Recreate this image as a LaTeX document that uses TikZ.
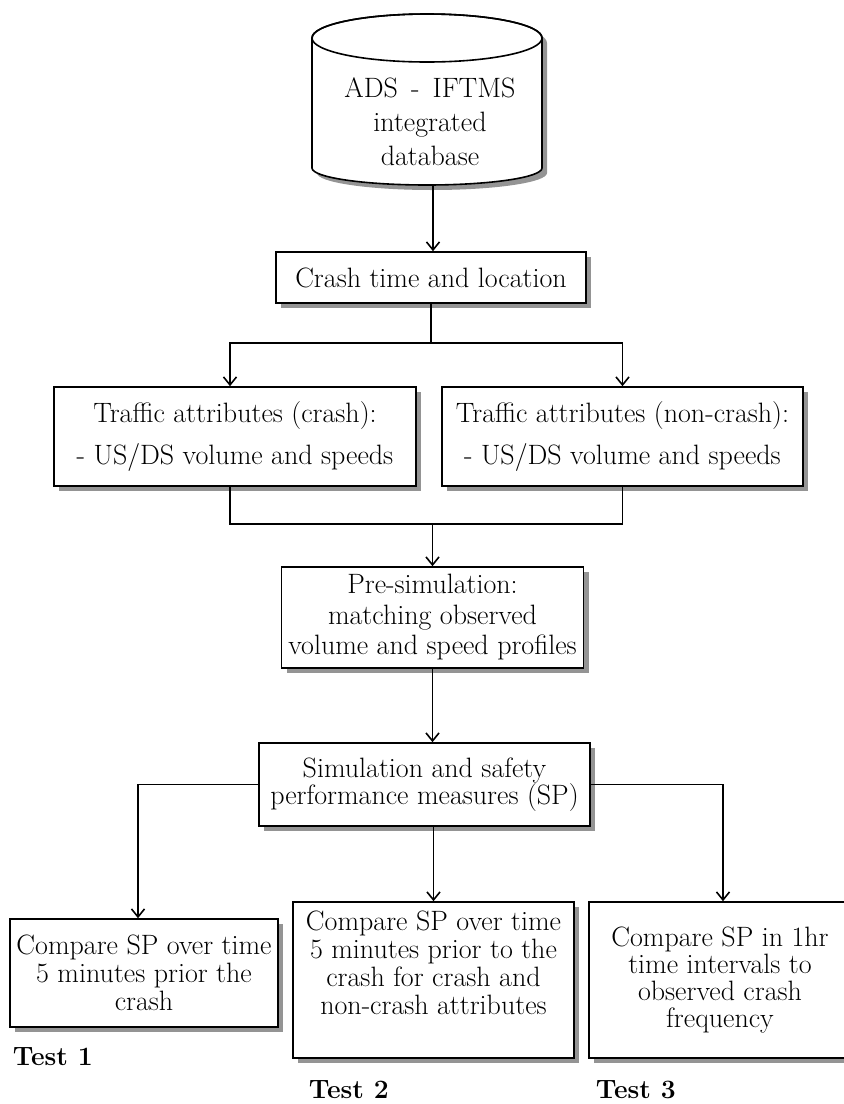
\documentclass[tikz,border=0pt]{standalone}
\usetikzlibrary{arrows.meta,shadows}
\begin{document}
\begin{tikzpicture}[x=1pt,y=-1pt,
  line width=1.6pt,
  shadowcol/.style={fill=black!42},
  box/.style={draw, fill=white, rectangle, inner sep=0pt, align=center,
    font=\fontsize{28}{28}\selectfont,
    drop shadow={shadow xshift=5pt, shadow yshift=-5pt, fill=black!42, opacity=1}},
  arr/.style={-{Straight Barb[length=8pt,width=13pt]}},
  testlbl/.style={font=\fontsize{26.5}{28}\selectfont\bfseries, anchor=west, inner sep=0pt}]

\useasboundingbox (0,0) rectangle (844,1104);

% database cylinder with its shadow
\fill[shadowcol] (317,43) -- (317,173) arc (180:0:115 and 17) -- (547,43) arc (0:-180:115 and 24) -- cycle;
\filldraw[fill=white] (312,38) -- (312,168) arc (180:0:115 and 17) -- (542,38) arc (0:-180:115 and 24) -- cycle;
\draw (427,38) ellipse (115 and 24);
\node[align=center, inner sep=0pt, font=\fontsize{28}{34}\selectfont] (db) at (430,122)
  {ADS\, - \,IFTMS\\ integrated\\ database};
\coordinate (dbout) at (433,185);

% process boxes
\node[box, minimum width=310pt, minimum height=51pt] (crash) at (431,277.5) {Crash time and location};
\node[box, minimum width=362pt, minimum height=99pt, font=\fontsize{28}{42}\selectfont] (trL) at (235,436.5)
  {Traffic attributes (crash):\\ - US/DS volume and speeds};
\node[box, minimum width=361pt, minimum height=99pt, font=\fontsize{28}{42}\selectfont] (trR) at (622.5,436.5)
  {Traffic attributes (non-crash):\\ - US/DS volume and speeds};
\node[box, minimum width=302pt, minimum height=101pt, font=\fontsize{28}{30.5}\selectfont] (presim) at (432.5,617.5)
  {Pre-simulation:\\ matching observed\\ volume and speed profiles};
\node[box, minimum width=331pt, minimum height=83pt, font=\fontsize{28}{27.5}\selectfont] (sim) at (424.5,784.5)
  {Simulation and safety\\ performance measures (SP)};
\node[box, minimum width=268pt, minimum height=108pt] (t1) at (144,973)
  {Compare SP over time\\ 5 minutes prior the\\ crash};
\node[box, minimum width=281pt, minimum height=156pt] (t2) at (433.5,980)
  {\raisebox{13pt}[\height][\depth]{\begin{tabular}{@{}c@{}}Compare SP over time\\ 5 minutes prior to the\\ crash for crash and\\ non-crash attributes\end{tabular}}};
\node[box, minimum width=262pt, minimum height=156pt, font=\fontsize{28}{27}\selectfont] (t3) at (720,980)
  {Compare SP in 1hr\\ time intervals to\\ observed crash\\ frequency};

% test labels
\node[testlbl] (l1) at (12,1057) {Test 1};
\node[testlbl] (l2) at (308,1090) {Test 2};
\node[testlbl] (l3) at (595,1090) {Test 3};

% connectors
\draw[arr] (dbout) -- (dbout |- crash.north);
\coordinate (split) at (431,343);
\draw (crash.south) -- (split);
\draw[arr] (split) -| ([xshift=-5pt]trL.north);
\draw[arr] (split) -| (trR.north);
\coordinate (merge) at (432.5,524);
\draw ([xshift=-5pt]trL.south) |- (merge) -| (trR.south);
\draw[arr] (merge) -- (presim.north);
\draw[arr] (presim.south) -- (presim.south |- sim.north);
\draw[arr] (sim.west) -| ([xshift=-6pt]t1.north);
\draw[arr] (sim.south -| t2.north) -- (t2.north);
\draw[arr] (sim.east) -| ([xshift=3pt]t3.north);
\end{tikzpicture}
\end{document}
